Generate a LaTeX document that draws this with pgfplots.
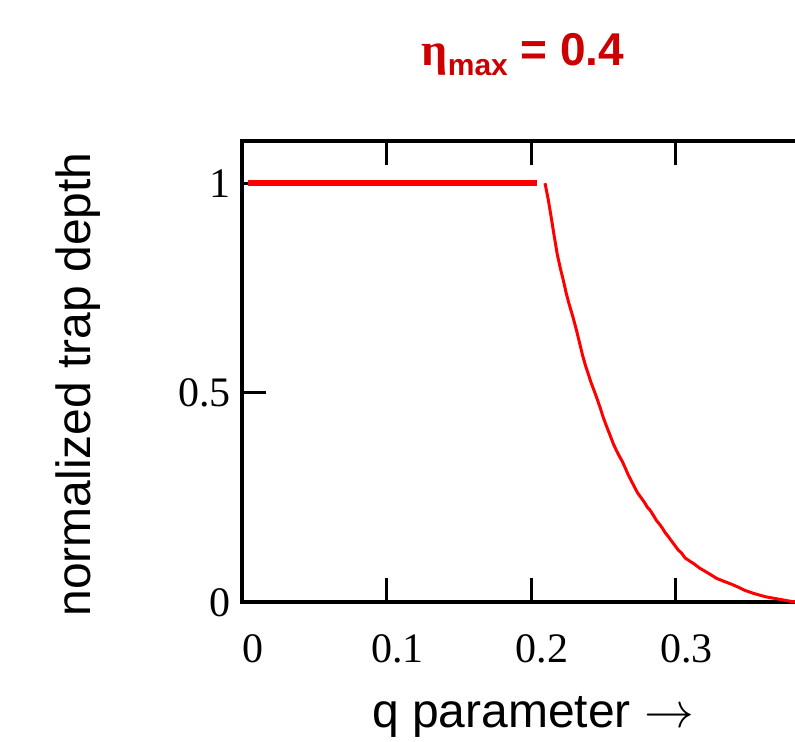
\documentclass[border=0pt]{standalone}
\usepackage{pgfplots}
\pgfplotsset{compat=1.18}
\usepackage{fontspec}
\setmainfont{Liberation Sans}
\newfontfamily\serifnum{Liberation Serif}
\newfontfamily\labfont{Liberation Sans}
\definecolor{titlered}{RGB}{204,0,0}
\begin{document}
\begin{tikzpicture}
\begin{axis}[
  at={(0,0)}, anchor=south west,
  scale only axis, width=289pt, height=230.5pt,
  xmin=0, xmax=0.4, ymin=0, ymax=1.1,
  xtick={0,0.1,0.2,0.3}, ytick={0,0.5,1},
  extra x ticks={0.4}, extra x tick labels={},
  tick align=inside,
  major tick length=12pt,
  every tick/.style={black, line width=1.5pt},
  axis line style={line width=2pt},
  /pgf/number format/assume math mode=true,
  ticklabel style={font=\serifnum\fontsize{21}{21}\selectfont},
  xticklabel style={anchor=north, inner sep=0pt, yshift=-16pt, xshift=5.5pt},
  yticklabel style={anchor=east, inner sep=0pt, xshift=-5.5pt},
]
\addplot[red, line width=2.8pt] coordinates {(0.004,1) (0.2039,1)};
\addplot[red, line width=1.5pt] coordinates {
(0.2097,1.000) (0.2120,0.960) (0.2141,0.916) (0.2161,0.873) (0.2182,0.830)
(0.2203,0.797) (0.2224,0.768) (0.2244,0.737) (0.2265,0.710) (0.2291,0.680)
(0.2314,0.650) (0.2334,0.622) (0.2355,0.592) (0.2376,0.566) (0.2397,0.544)
(0.2417,0.523) (0.2438,0.504) (0.2459,0.484) (0.2480,0.463) (0.2500,0.441)
(0.2524,0.419) (0.2549,0.397) (0.2570,0.378) (0.2590,0.363) (0.2611,0.349)
(0.2632,0.336) (0.2653,0.320) (0.2673,0.304) (0.2694,0.290) (0.2715,0.276)
(0.2736,0.262) (0.2759,0.251) (0.2784,0.239) (0.2805,0.227) (0.2826,0.219)
(0.2846,0.208) (0.2867,0.196) (0.2888,0.187) (0.2909,0.177) (0.2929,0.166)
(0.2950,0.157) (0.2971,0.147) (0.2997,0.135) (0.3019,0.125) (0.3043,0.117)
(0.3066,0.106) (0.3100,0.098) (0.3123,0.093) (0.3170,0.081) (0.3239,0.067)
(0.3285,0.057) (0.3336,0.050) (0.3389,0.043) (0.3435,0.036) (0.3476,0.029)
(0.3543,0.021) (0.3626,0.013) (0.3723,0.007) (0.3804,0.002) (0.3900,0.000)
(0.4000,0.000)};
\end{axis}
\node[anchor=base, text=titlered, font=\bfseries\fontsize{23}{23}\selectfont] at (140.5pt,268.3pt)
  {{\serifnum η}\raisebox{-4.7pt}{\fontsize{15}{15}\selectfont max} = 0.4};
\node[anchor=base, font=\labfont\fontsize{24}{24}\selectfont] at (145.5pt,-62.35pt)
  {q parameter $\rightarrow$};
\node[anchor=base, rotate=90, font=\labfont\fontsize{24}{24}\selectfont] at (-75.5pt,108.9pt)
  {normalized trap depth};
\pgfresetboundingbox
\path[use as bounding box] (-121pt,-69.35pt) rectangle (276.5pt,301.15pt);
\end{tikzpicture}
\end{document}
